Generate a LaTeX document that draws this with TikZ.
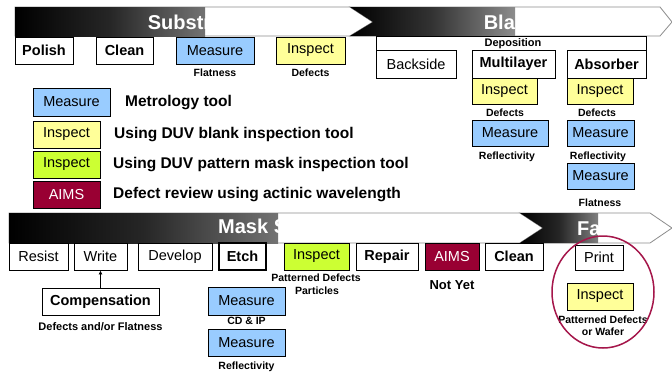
\documentclass[tikz,border=0pt]{standalone}
\usepackage{fontspec}
\setmainfont{Liberation Sans}
\usetikzlibrary{arrows.meta}
\definecolor{mblue}{HTML}{99CCFF}
\definecolor{myellow}{HTML}{FFFF99}
\definecolor{mgreen}{HTML}{CCFF33}
\definecolor{mmaroon}{HTML}{990033}
\definecolor{bandline}{HTML}{8C8C8C}
\definecolor{ring}{HTML}{A5164A}
\begin{document}
\begin{tikzpicture}[x=1pt,y=-1pt,
 box/.style={draw=black, line width=0.9pt, minimum height=27pt, inner sep=0pt, font=\fontsize{14.5}{16}\selectfont},
 bbox/.style={box, font=\fontsize{14.5}{16}\selectfont\bfseries},
 meas/.style={box, fill=mblue},
 insp/.style={box, fill=myellow},
 pinsp/.style={box, fill=mgreen},
 aims/.style={box, fill=mmaroon, text=white},
 lbl/.style={font=\fontsize{10.5}{12}\selectfont\bfseries, inner sep=0pt},
 legtext/.style={font=\fontsize{15.5}{17}\selectfont\bfseries, anchor=west, inner sep=0pt},
 title/.style={font=\fontsize{20}{22}\selectfont\bfseries, text=white, inner sep=0pt},
 band/.style={draw=bandline, line width=0.8pt, fill=white},
]
\useasboundingbox (0,0) rectangle (672,372);
\fill[white] (0,0) rectangle (672,372);

% ---- top band: Substrate and Blank
\path[band] (15,7) -- (350,7) -- (373,22) -- (350,36) -- (15,36) -- cycle;
\shade[left color=black, right color=black!55, middle color=black!85] (15,7) rectangle (205,36);
\path[band] (350,7) -- (660,7) -- (672,22) -- (660,36) -- (350,36) -- (373,22) -- cycle;
\shade[left color=black, right color=black!45, middle color=black!80] (350,7) -- (515,7) -- (515,36) -- (350,36) -- (373,22) -- cycle;
\node[title] (tsub) at (194,22) {Substrate};
\node[title] (tbla) at (511,22) {Blank};

% ---- mask band: Mask Shop and Fab
\path[band] (9,213) -- (520,213) -- (543,228) -- (520,243) -- (9,243) -- cycle;
\shade[left color=black, right color=black!55, middle color=black!85] (9,213) rectangle (278,243);
\path[band] (520,213) -- (650,213) -- (672,228) -- (650,243) -- (520,243) -- (543,228) -- cycle;
\shade[left color=black, right color=black!50, middle color=black!85] (520,213) -- (598,213) -- (598,243) -- (520,243) -- (543,228) -- cycle;
\node[title] (tmask) at (271,228) {Mask Shop};
\node[title] (tfab) at (595,228) {Fab};

% ---- substrate steps
\node[bbox, minimum width=58pt] (polish) at (44,50.5) {Polish};
\node[bbox, minimum width=57pt] (clean1) at (124.5,50.5) {Clean};
\node[meas, minimum width=78pt] (meas1) at (215,50.5) {Measure};
\node[insp, minimum width=69pt] (insp1) at (310.5,50.5) {Inspect};
\node[lbl] (flat1) at (215,73) {Flatness};
\node[lbl] (def1) at (310.5,73) {Defects};

% ---- blank steps
\draw[line width=0.9pt] (376,50) -- (376,36) -- (646,36) -- (646,50);
\node[font=\fontsize{11}{12}\selectfont\bfseries, inner sep=0pt] (depo) at (513,44) {Deposition};
\node[box, minimum width=80pt, minimum height=28pt] (backside) at (416,64) {Backside};
\node[bbox, minimum width=83pt, minimum height=28pt] (multi) at (513.5,64) {Multilayer};
\node[bbox, minimum width=79pt, minimum height=28pt] (absorb) at (606.5,64) {Absorber};
\node[insp, minimum width=65pt, minimum height=26pt] (insp2) at (504.5,91) {Inspect};
\node[lbl] (def2) at (505,113) {Defects};
\node[meas, minimum width=76pt, minimum height=26pt] (meas2) at (510,133) {Measure};
\node[lbl] (refl2) at (507,157) {Reflectivity};
\node[insp, minimum width=66pt, minimum height=26pt] (insp3) at (600,91) {Inspect};
\node[lbl] (def3) at (597,113) {Defects};
\node[meas, minimum width=67pt, minimum height=26pt] (meas3) at (600.5,133) {Measure};
\node[lbl] (refl3) at (598,157) {Reflectivity};
\node[meas, minimum width=67pt, minimum height=26pt] (meas4) at (600.5,176) {Measure};
\node[lbl] (flat3) at (600,203) {Flatness};

% ---- legend
\node[meas, minimum width=77pt, minimum height=28pt] (lg1) at (71.5,102) {Measure};
\node[legtext] (lt1) at (125,103) {Metrology tool};
\node[insp, minimum width=67pt] (lg2) at (66.5,134.5) {Inspect};
\node[legtext] (lt2) at (114,135) {Using DUV blank inspection tool};
\node[pinsp, minimum width=67pt] (lg3) at (66.5,164.5) {Inspect};
\node[legtext] (lt3) at (113,165) {Using DUV pattern mask inspection tool};
\node[aims, minimum width=67pt] (lg4) at (66.5,194.5) {AIMS};
\node[legtext] (lt4) at (113,195) {Defect review using actinic wavelength};

% ---- mask shop steps
\node[box, minimum width=59pt] (resist) at (38.5,256.5) {Resist};
\node[box, minimum width=53pt] (write) at (100.5,256.5) {Write};
\node[box, minimum width=74pt] (develop) at (175,256.5) {Develop};
\node[bbox, line width=1.4pt, minimum width=47pt] (etch) at (242.5,256.5) {Etch};
\node[pinsp, minimum width=65pt] (insp4) at (316.5,256.5) {Inspect};
\node[bbox, minimum width=62pt] (repair) at (387,256.5) {Repair};
\node[aims, minimum width=54pt] (aims1) at (452,256.5) {AIMS};
\node[bbox, minimum width=58pt] (clean2) at (514,256.5) {Clean};
\node[box, minimum width=48pt, minimum height=25pt] (print) at (599,257.5) {Print};
\node[lbl] (pd1) at (316,278) {Patterned Defects};
\node[lbl] (part) at (317,291) {Particles};
\node[font=\fontsize{13}{14}\selectfont\bfseries, inner sep=0pt] (notyet) at (452,285) {Not Yet};

\node[bbox, minimum width=117pt] (comp) at (100.5,301.5) {Compensation};
\draw[-{Latex[length=4pt,width=4pt]}, line width=1pt] (comp.north) -- (write.south);
\node[font=\fontsize{11}{12}\selectfont\bfseries, inner sep=0pt] (compl) at (100.5,327) {Defects and/or Flatness};

\node[meas, minimum width=77pt, minimum height=28pt] (meas5) at (246.5,301) {Measure};
\node[lbl] (cdip) at (246.5,321) {CD \& IP};
\node[meas, minimum width=77pt] (meas6) at (246.5,342.5) {Measure};
\node[lbl] (refl4) at (246.5,367) {Reflectivity};

\node[insp, minimum width=66pt] (insp5) at (600,296.5) {Inspect};
\node[lbl] (pd2) at (603,320) {Patterned Defects};
\node[lbl] (wafer) at (603,332) {or Wafer};
\draw[ring, line width=1.5pt] (603,292) ellipse [x radius=51, y radius=56];
\end{tikzpicture}
\end{document}
